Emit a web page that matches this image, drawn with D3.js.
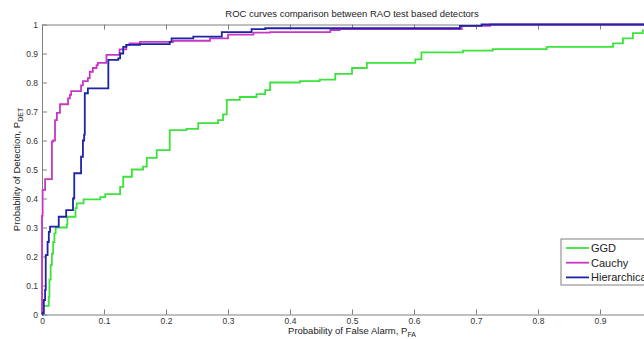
<!DOCTYPE html>
<html>
<head>
<meta charset="utf-8">
<script src="https://cdn.jsdelivr.net/npm/d3@7"></script>
<style>
  html, body { margin: 0; padding: 0; background: #fff; overflow: hidden; }
  svg { display: block; font-family: "Liberation Sans", Arial, sans-serif; }
</style>
</head>
<body>
<script>
// ROC points as [P_FA, P_DET], each one starts a new level (step after)
const ggd = [
  [0, 0], [0.001, 0.03], [0.011, 0.06], [0.012, 0.12], [0.014, 0.17], [0.016, 0.21],
  [0.018, 0.25], [0.020, 0.28], [0.022, 0.30], [0.040, 0.31], [0.041, 0.337],
  [0.054, 0.367], [0.056, 0.383], [0.067, 0.397], [0.094, 0.405], [0.102, 0.415],
  [0.126, 0.44], [0.131, 0.475], [0.145, 0.50], [0.163, 0.51], [0.169, 0.54],
  [0.185, 0.567], [0.206, 0.636], [0.233, 0.64], [0.252, 0.66], [0.284, 0.67],
  [0.292, 0.69], [0.298, 0.74], [0.319, 0.75], [0.346, 0.76], [0.36, 0.774],
  [0.368, 0.80], [0.416, 0.805], [0.448, 0.81], [0.473, 0.83], [0.50, 0.85],
  [0.524, 0.868], [0.602, 0.88], [0.612, 0.904], [0.679, 0.91], [0.727, 0.915],
  [0.814, 0.923], [0.921, 0.935], [0.937, 0.952], [0.953, 0.97], [0.969, 0.98], [1, 1]
];
const cauchy = [
  [0, 0], [0, 0.34], [0.001, 0.43], [0.005, 0.467], [0.016, 0.596], [0.018, 0.60],
  [0.021, 0.67], [0.024, 0.695], [0.029, 0.725], [0.042, 0.745], [0.045, 0.757],
  [0.047, 0.77], [0.063, 0.79], [0.066, 0.805], [0.074, 0.815], [0.077, 0.837],
  [0.082, 0.85], [0.088, 0.86], [0.090, 0.868], [0.104, 0.895], [0.125, 0.914],
  [0.136, 0.93], [0.141, 0.935], [0.158, 0.94], [0.212, 0.944], [0.271, 0.952],
  [0.30, 0.965], [0.341, 0.972], [0.368, 0.974], [0.465, 0.981], [0.48, 0.984],
  [0.677, 0.995], [0.723, 1], [1, 1]
];
const hierarchical = [
  [0, 0], [0.001, 0.005], [0.003, 0.05], [0.005, 0.085], [0.006, 0.205],
  [0.009, 0.25], [0.011, 0.285], [0.013, 0.303], [0.027, 0.337], [0.039, 0.36],
  [0.050, 0.40], [0.052, 0.487], [0.063, 0.544], [0.066, 0.60], [0.068, 0.62],
  [0.069, 0.763], [0.074, 0.78], [0.107, 0.878], [0.123, 0.883], [0.126, 0.90],
  [0.131, 0.923], [0.136, 0.93], [0.158, 0.932], [0.206, 0.94], [0.209, 0.952],
  [0.244, 0.958], [0.29, 0.974], [0.338, 0.984], [0.36, 0.987], [0.674, 0.995],
  [0.709, 1], [1, 1]
];
const seriesNames = ["GGD", "Cauchy", "Hierarchical"];
const seriesColors = ["#3de23d", "#c637c6", "#1f23a6"];
const tickValues = [0, 0.1, 0.2, 0.3, 0.4, 0.5, 0.6, 0.7, 0.8, 0.9, 1];

const width = 644, height = 339;
// the axes box runs a bit past the right edge of the picture, like the original
const margin = { top: 24.5, left: 42, right: -18, bottom: 24.5 };
const plotW = width - margin.left - margin.right;
const plotH = height - margin.top - margin.bottom;

const svg = d3.select("body").append("svg")
  .attr("width", width)
  .attr("height", height);

const x = d3.scaleLinear().domain([0, 1]).range([margin.left, margin.left + plotW]);
const y = d3.scaleLinear().domain([0, 1]).range([margin.top + plotH, margin.top]);
const fmt = d => d === 0 || d === 1 ? String(d) : d.toFixed(1);
// the x "1" sits outside the picture, so no label for it
const fmtX = d => d === 1 ? "" : fmt(d);

// axes (ticks point inside like matlab)
function styleAxis(g) {
  g.selectAll("path, line").attr("stroke", "#808080").attr("stroke-width", 1);
  g.selectAll("text").attr("fill", "#333").attr("font-size", 8.5).attr("font-family", null);
}
svg.append("g")
  .attr("transform", "translate(0," + (margin.top + plotH) + ")")
  .call(d3.axisBottom(x).tickValues(tickValues).tickFormat(fmtX).tickSize(-5).tickSizeOuter(0).tickPadding(3))
  .call(styleAxis);
svg.append("g")
  .attr("transform", "translate(0," + margin.top + ")")
  .call(d3.axisTop(x).tickValues(tickValues).tickFormat("").tickSize(-5).tickSizeOuter(0))
  .call(styleAxis);
svg.append("g")
  .attr("transform", "translate(" + margin.left + ",0)")
  .call(d3.axisLeft(y).tickValues(tickValues).tickFormat(fmt).tickSize(-5).tickSizeOuter(0).tickPadding(4))
  .call(styleAxis);
svg.append("g")
  .attr("transform", "translate(" + (margin.left + plotW) + ",0)")
  .call(d3.axisRight(y).tickValues(tickValues).tickFormat("").tickSize(-5).tickSizeOuter(0))
  .call(styleAxis);

// curves
const line = d3.line()
  .x(d => x(d[0]))
  .y(d => y(d[1]))
  .curve(d3.curveStepAfter);

[ggd, cauchy, hierarchical].forEach((data, i) => {
  svg.append("path")
    .datum(data)
    .attr("fill", "none")
    .attr("stroke", seriesColors[i])
    .attr("stroke-width", 1.8)
    .attr("d", line);
});

// title + labels
svg.append("text")
  .attr("x", margin.left + plotW / 2)
  .attr("y", 17)
  .attr("text-anchor", "middle")
  .attr("font-size", 9.5)
  .attr("fill", "#222")
  .text("ROC curves comparison between RAO test based detectors");

const xLabel = svg.append("text")
  .attr("x", margin.left + plotW / 2)
  .attr("y", 334)
  .attr("text-anchor", "middle")
  .attr("font-size", 9.5)
  .attr("fill", "#222");
xLabel.append("tspan").text("Probability of False Alarm, P");
xLabel.append("tspan").attr("font-size", 7).attr("dy", 3).text("FA");

const yLabel = svg.append("text")
  .attr("transform", "translate(20," + (margin.top + plotH / 2) + ") rotate(-90)")
  .attr("text-anchor", "middle")
  .attr("font-size", 9.5)
  .attr("fill", "#222");
yLabel.append("tspan").text("Probability of Detection, P");
yLabel.append("tspan").attr("font-size", 7).attr("dy", 3).text("DET");

// legend
const legend = svg.append("g").attr("transform", "translate(561,239)");
legend.append("rect")
  .attr("width", 110)
  .attr("height", 46)
  .attr("fill", "#fff")
  .attr("stroke", "#808080");
seriesNames.forEach((name, i) => {
  const row = legend.append("g").attr("transform", "translate(0," + (9 + i * 14.7) + ")");
  row.append("line")
    .attr("x1", 5).attr("x2", 28)
    .attr("stroke", seriesColors[i])
    .attr("stroke-width", 1.8);
  row.append("text")
    .attr("x", 30)
    .attr("dy", "0.35em")
    .attr("font-size", 11)
    .attr("fill", "#222")
    .text(name);
});
</script>
</body>
</html>
